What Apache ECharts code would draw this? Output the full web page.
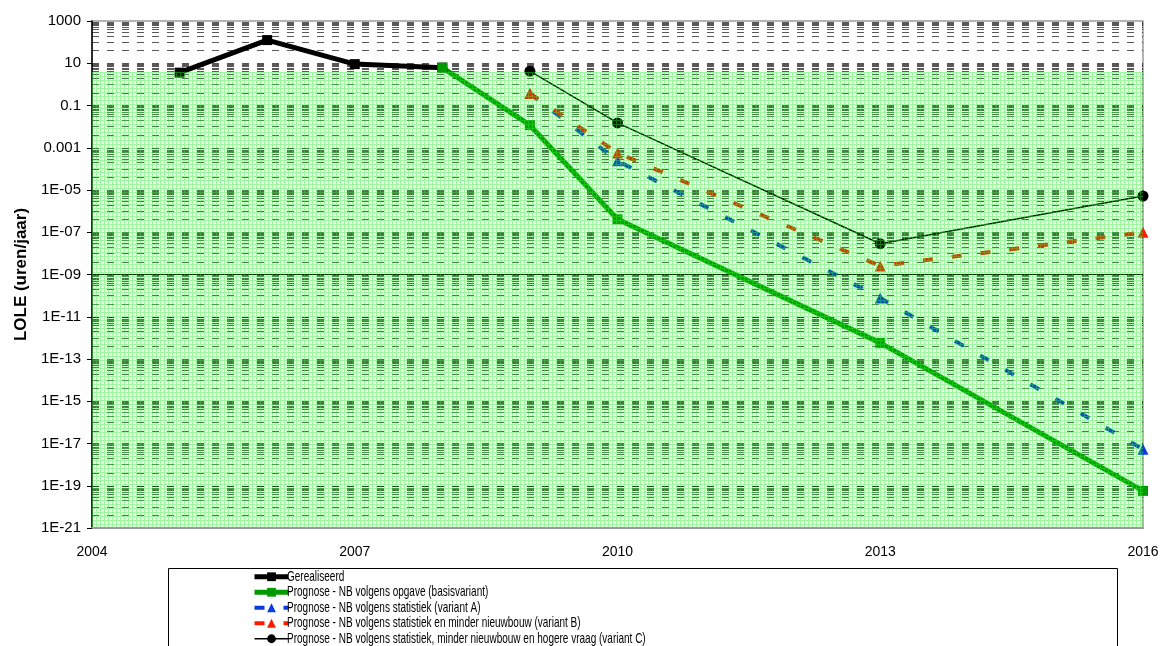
<!DOCTYPE html>
<html>
<head>
<meta charset="utf-8">
<title>LOLE</title>
<script src="https://cdn.jsdelivr.net/npm/echarts@6/dist/echarts.min.js"></script>
<style>
  html, body { margin: 0; padding: 0; background: #fff; }
  #chart { width: 1162px; height: 646px; }
</style>
</head>
<body>
<div id="chart"></div>
<script>
// ---- data (LOLE in uren/jaar) ----
const yearsRealised = [2005, 2006, 2007, 2008];
const loleRealised = [3.6, 125, 9.1, 6.2];

const yearsBasis = [2008, 2009, 2010, 2013, 2016];
const loleBasis = [6.2, 0.0117, 4.1e-7, 5.8e-13, 5.7e-20];

const yearsVariants = [2009, 2010, 2013, 2016];
const loleVariantA = [0.37, 2.4e-4, 7.8e-11, 5.4e-18];
const loleVariantB = [0.37, 5.7e-4, 2.5e-9, 1.0e-7];
const loleVariantC = [4.2, 0.015, 2.85e-8, 5.2e-6];

const seriesNames = [
  'Gerealiseerd',
  'Prognose - NB volgens opgave (basisvariant)',
  'Prognose - NB volgens statistiek (variant A)',
  'Prognose - NB volgens statistiek en minder nieuwbouw (variant B)',
  'Prognose - NB volgens statistiek, minder nieuwbouw en hogere vraag (variant C)'
];

const xTickLabels = ['2004', '2007', '2010', '2013', '2016'];
const yTickLabels = ['1E-21', '1E-19', '1E-17', '1E-15', '1E-13', '1E-11', '1E-09',
                     '1E-07', '1E-05', '0.001', '0.1', '10', '1000'];

// LOLE norm: 4 uur/jaar
const loleNorm = 4;

// axis ranges
const xMin = 2004, xMax = 2016;
const yMin = 1e-21, yMax = 1000;

// ECharts rounds log-axis values below 1e-20 to zero, so the axis runs in
// milli-units (x1000) and the labels are given back in uren/jaar.
const UNIT = 1000;
const u = v => v * UNIT;
const pairs = (xs, ys) => xs.map((x, i) => [x, u(ys[i])]);

// dashed gridlines inside every two-decade step
const gridMultipliers = [4, 10, 20, 30, 40, 50, 60, 70, 80, 90, 100];
function gridLineValues() {
  const out = [];
  for (let e = -21; e < 3; e += 2) {
    gridMultipliers.forEach(m => {
      const v = m * Math.pow(10, e);
      if (v < yMax * 0.999) out.push(u(v));
    });
  }
  return out;
}

// fine green hatch used for the norm band
function hatchPattern() {
  const c = document.createElement('canvas');
  c.width = 4; c.height = 4;
  const g = c.getContext('2d');
  g.fillStyle = 'rgba(60,230,60,0.13)';
  g.fillRect(0, 0, 4, 4);
  g.fillStyle = 'rgba(50,235,50,0.4)';
  g.fillRect(0, 0, 4, 1);
  g.fillRect(0, 1, 1, 3);
  return c;
}

const chart = echarts.init(document.getElementById('chart'), null, { renderer: 'canvas' });

const gridLines = gridLineValues().map(v => ({ coords: [[xMin, v], [xMax, v]] }));
gridLines.push({
  coords: [[xMin, u(1e-9)], [xMax, u(1e-9)]],
  lineStyle: { type: 'solid', color: '#000', width: 1, opacity: 1 }
});

// legend labels, set in a condensed face
const legendTop = 569, legendRow = 15.5, legendTextX = 287;
const legendTexts = seriesNames.map((name, i) => ({
  type: 'text',
  x: legendTextX,
  y: legendTop + legendRow * (i + 0.5),
  scaleX: 0.69,
  silent: true,
  z: 20,
  style: {
    text: name,
    font: '14.5px "Liberation Sans", Arial, sans-serif',
    fill: '#000',
    verticalAlign: 'middle',
    align: 'left'
  }
}));
const legendWidths = [5, 5, 4, 4, 1.5];

const option = {
  animation: false,
  backgroundColor: '#fff',
  grid: {
    left: 92, right: 19, top: 21, bottom: 118,
    show: true, borderColor: '#9a9a9a', borderWidth: 1.5, backgroundColor: '#fff'
  },
  xAxis: {
    type: 'value',
    min: xMin, max: xMax, interval: 3,
    axisLine: { show: true, lineStyle: { color: '#9a9a9a', width: 2 } },
    axisTick: { show: false },
    splitLine: { show: false },
    axisLabel: {
      margin: 17, fontSize: 14, color: '#000', fontFamily: 'Liberation Sans, Arial, sans-serif',
      formatter: v => xTickLabels[Math.round((v - xMin) / 3)] || ''
    }
  },
  yAxis: {
    type: 'log',
    logBase: 10,
    min: u(yMin), max: u(yMax),
    interval: 2,
    name: 'LOLE (uren/jaar)',
    nameLocation: 'middle',
    nameGap: 62,
    nameTextStyle: { fontSize: 17, fontWeight: 'bold', color: '#000', fontFamily: 'Liberation Sans, Arial, sans-serif' },
    axisLine: { show: true, lineStyle: { color: '#000', width: 1.5 } },
    axisTick: { show: true, inside: false, length: 5, lineStyle: { color: '#000', width: 1 } },
    splitLine: { show: false },
    minorTick: { show: false },
    axisLabel: {
      margin: 11, fontSize: 15, color: '#000', fontFamily: 'Liberation Sans, Arial, sans-serif',
      formatter: v => {
        const e = Math.round(Math.log10(v / UNIT));
        return yTickLabels[(e + 21) / 2] || '';
      }
    }
  },
  legend: {
    orient: 'vertical',
    left: 252, top: legendTop,
    height: 90,
    padding: 0,
    itemGap: 0,
    itemWidth: 34,
    itemHeight: 11,
    data: seriesNames.map((name, i) => ({ name, lineStyle: { width: legendWidths[i] } })),
    formatter: () => ' ',
    textStyle: { fontSize: 12, lineHeight: legendRow, padding: 0 }
  },
  graphic: [{
    type: 'rect',
    shape: { x: 168.5, y: 568.5, width: 949, height: 100 },
    style: { fill: 'none', stroke: '#000', lineWidth: 1 },
    silent: true
  }].concat(legendTexts),
  series: [
    {
      name: 'gridlines',
      type: 'lines',
      coordinateSystem: 'cartesian2d',
      polyline: false,
      silent: true,
      z: 1,
      lineStyle: { type: [7, 8], color: '#000', width: 1, opacity: 0.65 },
      data: gridLines
    },
    {
      name: seriesNames[0],
      type: 'line',
      z: 3,
      data: pairs(yearsRealised, loleRealised),
      symbol: 'rect', symbolSize: 10,
      lineStyle: { width: 5, color: '#000' },
      itemStyle: { color: '#000' }
    },
    {
      name: seriesNames[1],
      type: 'line',
      z: 3,
      data: pairs(yearsBasis, loleBasis),
      symbol: 'rect', symbolSize: 10,
      lineStyle: { width: 5, color: '#009a00' },
      itemStyle: { color: '#009a00' }
    },
    {
      name: seriesNames[2],
      type: 'line',
      z: 3,
      data: pairs(yearsVariants, loleVariantA),
      symbol: 'triangle', symbolSize: 11,
      lineStyle: { width: 4, type: [10, 19], color: '#0a3be0' },
      itemStyle: { color: '#0a3be0' }
    },
    {
      name: seriesNames[3],
      type: 'line',
      z: 3,
      data: pairs(yearsVariants, loleVariantB),
      symbol: 'triangle', symbolSize: 11,
      lineStyle: { width: 4, type: [10, 19], color: '#ff1a00' },
      itemStyle: { color: '#ff1a00' }
    },
    {
      name: seriesNames[4],
      type: 'line',
      z: 3,
      data: pairs(yearsVariants, loleVariantC),
      symbol: 'circle', symbolSize: 11,
      lineStyle: { width: 1.5, color: '#000' },
      itemStyle: { color: '#000' }
    },
    {
      name: 'norm',
      type: 'line',
      data: [],
      silent: true,
      markArea: {
        z: 8,
        silent: true,
        itemStyle: { color: { image: hatchPattern(), repeat: 'repeat' } },
        emphasis: { disabled: true },
        data: [[{ yAxis: u(yMin) }, { yAxis: u(loleNorm) }]]
      }
    }
  ]
};

chart.setOption(option);
</script>
</body>
</html>
